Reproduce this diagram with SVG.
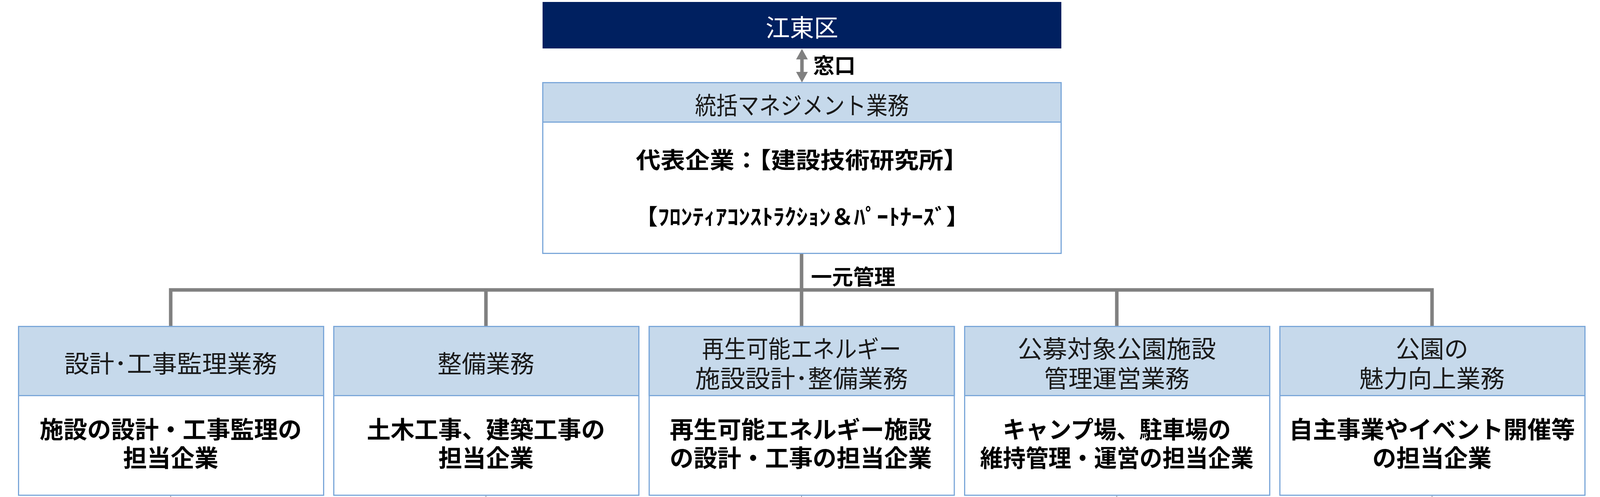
<svg xmlns="http://www.w3.org/2000/svg" width="4110" height="1272" viewBox="0 0 4110 1272">
<defs>
<style>
.t{font-family:"Noto Sans CJK JP","Noto Sans",sans-serif;dominant-baseline:central;text-anchor:middle}
.hd{font-size:62px;fill:#1a1a1a;font-weight:400}
.bd{font-size:61px;fill:#000;font-weight:700}
.box{fill:#fff;stroke:#7BA7D9;stroke-width:3}
.hbox{fill:#C6D9EB;stroke:#7BA7D9;stroke-width:3}
.con{fill:none;stroke:#808080;stroke-width:9;stroke-linejoin:miter}
.lbl{font-size:54px;font-weight:700;fill:#000;text-anchor:start}
</style>
<marker id="ah" markerUnits="userSpaceOnUse" markerWidth="27" markerHeight="30" viewBox="0 0 27 30" refX="12" refY="15" orient="auto-start-reverse">
<path d="M0,0 L27,15 L0,30 z" fill="#808080"/>
</marker>
</defs>
<rect width="4110" height="1272" fill="#fff"/>

<g id="connectors">
<line x1="2053" y1="140" x2="2053" y2="196" stroke="#808080" stroke-width="9" marker-start="url(#ah)" marker-end="url(#ah)"/>
<path class="con" d="M2052,649 V834"/>
<path class="con" d="M437,834 V742 H3666 V834"/>
<path class="con" d="M1244,742 V834"/>
<path class="con" d="M2859,742 V834"/>
<g stroke="#9a9a9a" stroke-width="2">
<line x1="437" y1="1269" x2="437" y2="1272"/>
<line x1="1244" y1="1269" x2="1244" y2="1272"/>
<line x1="2052" y1="1269" x2="2052" y2="1272"/>
<line x1="2859" y1="1269" x2="2859" y2="1272"/>
<line x1="3666" y1="1269" x2="3666" y2="1272"/>
</g>
<text class="t lbl" x="2082" y="164">窓口</text>
<text class="t lbl" x="2076" y="705">一元管理</text>
</g>

<g id="koto">
<rect x="1389" y="5" width="1328" height="119" fill="#002060"/>
<text class="t" x="2053" y="67" font-size="62" fill="#fff">江東区</text>
</g>

<g id="management">
<rect class="box" x="1389.5" y="211.5" width="1327" height="437"/>
<rect class="hbox" x="1389.5" y="211.5" width="1327" height="101"/>
<text class="t hd" x="2053" y="266" textLength="548" lengthAdjust="spacingAndGlyphs">統括マネジメント業務</text>
<text class="t" x="2053" y="406" font-size="58" font-weight="700" textLength="850" lengthAdjust="spacingAndGlyphs">代表企業：【建設技術研究所】</text>
<text class="t" x="2053" y="550" font-size="56" font-weight="700" textLength="856" lengthAdjust="spacingAndGlyphs">【ﾌﾛﾝﾃｨｱｺﾝｽﾄﾗｸｼｮﾝ＆ﾊﾟｰﾄﾅｰｽﾞ】</text>
</g>

<g id="design">
<rect class="box" x="47.5" y="835.5" width="781" height="432"/>
<rect class="hbox" x="47.5" y="835.5" width="781" height="177"/>
<text class="t hd" x="437" y="927" textLength="545" lengthAdjust="spacingAndGlyphs">設計･工事監理業務</text>
<text class="t bd"><tspan x="437" y="1095">施設の設計・工事監理の</tspan><tspan x="437" y="1168">担当企業</tspan></text>
</g>

<g id="construction">
<rect class="box" x="854.5" y="835.5" width="781" height="432"/>
<rect class="hbox" x="854.5" y="835.5" width="781" height="177"/>
<text class="t hd" x="1244" y="927">整備業務</text>
<text class="t bd"><tspan x="1244" y="1095">土木工事、建築工事の</tspan><tspan x="1244" y="1168">担当企業</tspan></text>
</g>

<g id="renewable">
<rect class="box" x="1662" y="835.5" width="781" height="432"/>
<rect class="hbox" x="1662" y="835.5" width="781" height="177"/>
<text class="t hd"><tspan x="2052" y="889" textLength="510" lengthAdjust="spacingAndGlyphs">再生可能エネルギー</tspan><tspan x="2052" y="965" textLength="545" lengthAdjust="spacingAndGlyphs">施設設計･整備業務</tspan></text>
<text class="t bd"><tspan x="2050" y="1095">再生可能エネルギー施設</tspan><tspan x="2050" y="1168">の設計・工事の担当企業</tspan></text>
</g>

<g id="park-operation">
<rect class="box" x="2469.5" y="835.5" width="781" height="432"/>
<rect class="hbox" x="2469.5" y="835.5" width="781" height="177"/>
<text class="t hd"><tspan x="2859" y="889" textLength="508" lengthAdjust="spacingAndGlyphs">公募対象公園施設</tspan><tspan x="2859" y="965">管理運営業務</tspan></text>
<text class="t bd"><tspan x="2859" y="1095" textLength="584" lengthAdjust="spacingAndGlyphs">キャンプ場、駐車場の</tspan><tspan x="2859" y="1168" textLength="700" lengthAdjust="spacingAndGlyphs">維持管理・運営の担当企業</tspan></text>
</g>

<g id="park-attraction">
<rect class="box" x="3276.5" y="835.5" width="781" height="432"/>
<rect class="hbox" x="3276.5" y="835.5" width="781" height="177"/>
<text class="t hd"><tspan x="3666" y="889">公園の</tspan><tspan x="3666" y="965">魅力向上業務</tspan></text>
<text class="t bd"><tspan x="3666" y="1095">自主事業やイベント開催等</tspan><tspan x="3666" y="1168">の担当企業</tspan></text>
</g>
</svg>
